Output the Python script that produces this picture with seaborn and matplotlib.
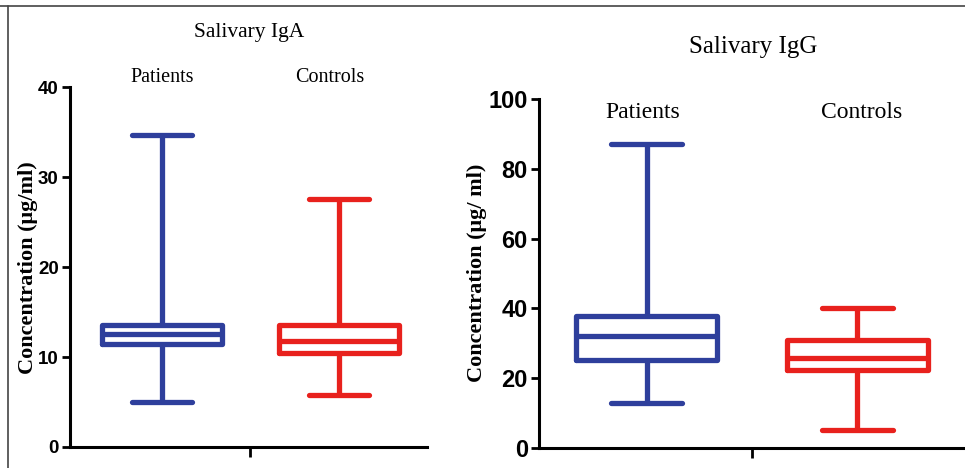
import numpy as np
import pandas as pd
import seaborn as sns
import matplotlib.pyplot as plt
from matplotlib.lines import Line2D

# five-number summaries: min, q1, median, q3, max
groups = ['Patients', 'Controls']
iga_patients = [5.0, 11.4, 12.6, 13.6, 34.7]
iga_controls = [5.8, 10.4, 11.8, 13.6, 27.6]
igg_patients = [13.0, 25.1, 32.0, 37.9, 87.1]
igg_controls = [5.2, 22.3, 25.8, 30.9, 40.0]

iga_ticks = [0, 10, 20, 30, 40]
igg_ticks = [0, 20, 40, 60, 80, 100]

blue = '#2e3f9c'
red = '#e8211d'
palette = {'Patients': blue, 'Controls': red}

sns.set_style('ticks')
plt.rcParams['font.family'] = ['Liberation Sans', 'DejaVu Sans']
plt.rcParams['text.color'] = 'black'
plt.rcParams['xtick.color'] = 'black'
plt.rcParams['ytick.color'] = 'black'


def make_frame(pat, con):
    return pd.DataFrame({
        'group': ['Patients'] * len(pat) + ['Controls'] * len(con),
        'value': pat + con,
    })


def draw_panel(ax, df, ticks, box_width, tick_size):
    sns.boxplot(data=df, x='group', y='value', hue='group', order=groups,
                hue_order=groups, palette=palette, fill=False, whis=(0, 100),
                width=box_width, linewidth=3.8, legend=False, ax=ax)
    ax.set_ylim(ticks[0], ticks[-1])
    ax.set_yticks(ticks)
    ax.set_xlabel('')
    ax.set_ylabel('')
    for s in ['top', 'right']:
        ax.spines[s].set_visible(False)
    for s in ['left', 'bottom']:
        ax.spines[s].set_linewidth(2.2)
        ax.spines[s].set_color('black')
    ax.tick_params(axis='y', length=6, width=2, direction='out', pad=2, labelcolor='black')
    for lab in ax.get_yticklabels():
        lab.set_fontweight('bold')
        lab.set_fontsize(tick_size)
    ax.tick_params(axis='x', which='major', length=0, labelbottom=False)
    ax.set_xticks([0.5], minor=True)
    ax.tick_params(axis='x', which='minor', length=7, width=2, direction='out')
    ax.set_facecolor('white')


fig = plt.figure(figsize=(9.65, 4.68), dpi=100)
fig.patch.set_facecolor('white')

ax1 = fig.add_axes([0.0725, 0.0449, 0.370, 0.769])
draw_panel(ax1, make_frame(iga_patients, iga_controls), iga_ticks, 0.68, 13.5)
ax1.set_xlim(-0.52, 1.5)

ax2 = fig.add_axes([0.5585, 0.0427, 0.4415, 0.746])
draw_panel(ax2, make_frame(igg_patients, igg_controls), igg_ticks, 0.67, 17)
ax2.set_xlim(-0.51, 1.51)

serif = ['Liberation Serif', 'DejaVu Serif']

# category names above the boxes
for i, g in enumerate(groups):
    ax1.text(i - 0.05 * i, 41.1, g, ha='center', va='center', fontsize=14.5, family=serif)
    ax2.text(i + 0.04 * i - 0.02, 96, g, ha='center', va='center', fontsize=17, family=serif)

fig.text(249 / 965, 1 - 32 / 468, 'Salivary IgA', ha='center', va='center', fontsize=15.5, family=serif)
fig.text(753 / 965, 1 - 47 / 468, 'Salivary IgG', ha='center', va='center', fontsize=18, family=serif)

fig.text(28 / 965, 1 - 268 / 468, 'Concentration (μg/ml)', rotation=90, ha='center', va='center',
         fontsize=16, fontweight='bold', family=serif)
fig.text(477 / 965, 1 - 273 / 468, 'Concentration (μg/ ml)', rotation=90, ha='center', va='center',
         fontsize=16, fontweight='bold', family=serif)

# thin frame round the figure (top and left edges)
fig.add_artist(Line2D([0, 1], [1 - 6 / 468, 1 - 6 / 468], color='#444444', lw=1.2, transform=fig.transFigure))
fig.add_artist(Line2D([8 / 965, 8 / 965], [0, 1 - 6 / 468], color='#444444', lw=1.2, transform=fig.transFigure))

fig.savefig('out.png', dpi=100, facecolor='white')
